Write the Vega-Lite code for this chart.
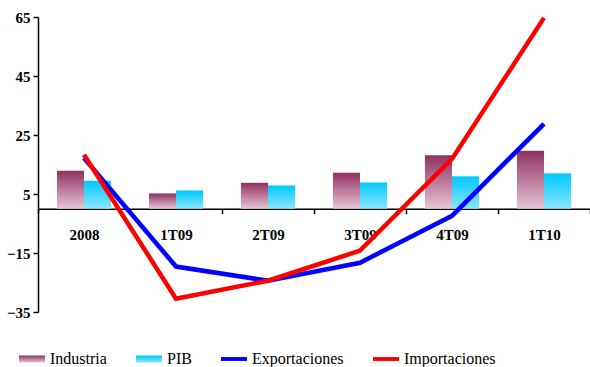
{
  "$schema": "https://vega.github.io/schema/vega-lite/v6.json",
  "width": 552,
  "height": 295,
  "autosize": {"type": "none"},
  "padding": {"left": 38, "top": 17, "right": 0, "bottom": 55},
  "background": "white",
  "config": {
    "view": {"stroke": null},
    "font": "Liberation Serif",
    "axis": {"labelFont": "Liberation Serif", "labelFontWeight": "bold", "labelFontSize": 15, "labelColor": "black", "domainColor": "black", "tickColor": "black", "domainWidth": 1.5, "tickWidth": 1.5, "grid": false, "title": null},
    "legend": {"labelFont": "Liberation Serif"}
  },
  "data": {
    "values": [
      {"period": "2008", "series": "Industria", "value": 12.9},
      {"period": "2008", "series": "PIB", "value": 9.5},
      {"period": "1T09", "series": "Industria", "value": 5.2},
      {"period": "1T09", "series": "PIB", "value": 6.2},
      {"period": "2T09", "series": "Industria", "value": 8.8},
      {"period": "2T09", "series": "PIB", "value": 7.9},
      {"period": "3T09", "series": "Industria", "value": 12.2},
      {"period": "3T09", "series": "PIB", "value": 8.9},
      {"period": "4T09", "series": "Industria", "value": 18.1},
      {"period": "4T09", "series": "PIB", "value": 11.0},
      {"period": "1T10", "series": "Industria", "value": 19.7},
      {"period": "1T10", "series": "PIB", "value": 12.0},
      {"period": "2008", "series": "Exportaciones", "value": 17.2},
      {"period": "1T09", "series": "Exportaciones", "value": -19.6},
      {"period": "2T09", "series": "Exportaciones", "value": -24.4},
      {"period": "3T09", "series": "Exportaciones", "value": -18.3},
      {"period": "4T09", "series": "Exportaciones", "value": -2.4},
      {"period": "1T10", "series": "Exportaciones", "value": 28.8},
      {"period": "2008", "series": "Importaciones", "value": 18.3},
      {"period": "1T09", "series": "Importaciones", "value": -30.5},
      {"period": "2T09", "series": "Importaciones", "value": -24.4},
      {"period": "3T09", "series": "Importaciones", "value": -14.2},
      {"period": "4T09", "series": "Importaciones", "value": 16.9},
      {"period": "1T10", "series": "Importaciones", "value": 64.7}
    ]
  },
  "encoding": {
    "x": {
      "field": "period", "type": "nominal", "sort": null,
      "scale": {"paddingInner": 0, "paddingOuter": 0},
      "axis": {"orient": "bottom", "offset": -103.25, "labelAngle": 0, "tickBand": "extent", "tickSize": 5, "labelPadding": 14, "labelBaseline": "top"}
    },
    "y": {
      "field": "value", "type": "quantitative",
      "scale": {"domain": [-35, 65], "nice": false, "zero": false},
      "axis": {"values": [-35, -15, 5, 25, 45, 65], "tickSize": 5, "labelPadding": 3}
    }
  },
  "layer": [
    {
      "transform": [{"filter": "datum.series === 'Industria' || datum.series === 'PIB'"}],
      "mark": {"type": "bar"},
      "encoding": {
        "xOffset": {"field": "series", "type": "nominal", "scale": {"domain": ["Industria", "PIB"], "paddingOuter": 0.7, "paddingInner": 0}},
        "fill": {
          "condition": {"test": "datum.series === 'Industria'", "value": {"gradient": "linear", "x1": 0, "y1": 0, "x2": 0, "y2": 1, "stops": [{"offset": 0, "color": "#8f3160"}, {"offset": 1, "color": "#e6c5d5"}]}},
          "value": {"gradient": "linear", "x1": 0, "y1": 0, "x2": 0, "y2": 1, "stops": [{"offset": 0, "color": "#00c8ff"}, {"offset": 1, "color": "#8ae6ff"}]}
        }
      }
    },
    {
      "transform": [{"filter": "datum.series === 'Exportaciones' || datum.series === 'Importaciones'"}],
      "mark": {"type": "line", "strokeWidth": 4.5, "strokeJoin": "miter"},
      "encoding": {
        "color": {
          "field": "series", "type": "nominal",
          "scale": {"domain": ["Industria", "PIB", "Exportaciones", "Importaciones"], "range": ["#a04a75", "#40d4ff", "#0000ff", "#ff0000"]},
          "legend": {
            "title": null, "orient": "none", "legendX": -19, "legendY": 329, "direction": "horizontal",
            "labelFont": "Liberation Serif", "labelFontSize": 16, "labelFontWeight": "normal", "labelColor": "black",
            "labelOffset": 5, "columnPadding": 29, "symbolSize": 676, "symbolType": "M-1,-0.27H1V0.27H-1Z",
            "encode": {
              "symbols": {
                "update": {
                  "fill": {"signal": "datum.value === 'Industria' ? {gradient: 'linear', x1: 0, y1: 0, x2: 0, y2: 1, stops: [{offset: 0, color: '#8f3160'}, {offset: 1, color: '#e6c5d5'}]} : datum.value === 'PIB' ? {gradient: 'linear', x1: 0, y1: 0, x2: 0, y2: 1, stops: [{offset: 0, color: '#00c8ff'}, {offset: 1, color: '#8ae6ff'}]} : scale('color', datum.value)"},
                  "stroke": {"value": "transparent"},
                  "strokeWidth": {"value": 0},
                  "shape": {"signal": "datum.value === 'Industria' || datum.value === 'PIB' ? 'M-1,-0.27H1V0.27H-1Z' : 'M-1,-0.15H1V0.15H-1Z'"}
                }
              }
            }
          }
        }
      }
    }
  ]
}
